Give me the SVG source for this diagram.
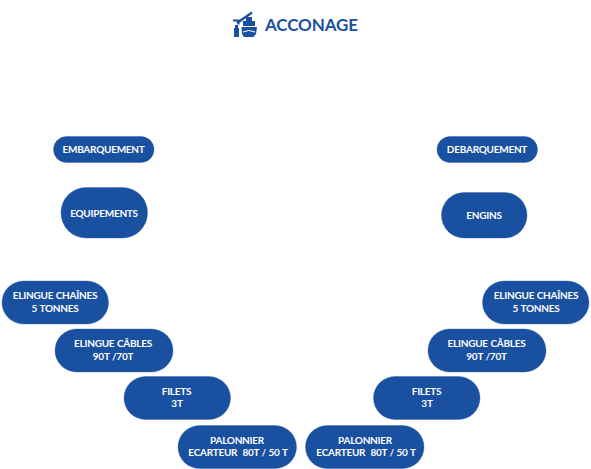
<svg xmlns="http://www.w3.org/2000/svg" width="591" height="469" viewBox="0 0 591 469">
<style>
.n{fill:#1a50a0;stroke:#1a50a0;stroke-opacity:.35;stroke-width:1}
.t{font-family:Lato,"Liberation Sans",sans-serif;font-size:10px;font-weight:700;fill:#fff;text-anchor:middle;letter-spacing:-0.25px;word-spacing:.4px}
.i{fill:#1a50a0}
.il{stroke:#1a50a0;stroke-width:2.200;fill:none}
</style>
<rect width="591" height="469" fill="#fff"/>
<g id="title">
<path class="il" d="M237 23L252 12.500M233 20.500h5.500v4"/>
<path class="i" d="M234 28h5v9h-5zM235 25h3v3h-3z"/>
<path class="i" d="M246 17h6v4h3v5h-12v-5h3z"/>
<path class="i" d="M241.500 27h15.500l-1 7-2.500 3h-9.500l-2-3z"/>
<path d="M243 32q5.500-3 12 0" stroke="#fff" stroke-width="1" fill="none"/>
<text x="265" y="31" font-family="Lato,'Liberation Sans',sans-serif" font-size="17" font-weight="700" letter-spacing="-0.1" fill="#1a50a0">ACCONAGE</text>
</g>
<g id="embarquement"><rect class="n" x="53.500" y="136.500" width="100.500" height="26" rx="13"/><text class="t" x="103.500" y="153">EMBARQUEMENT</text></g>
<g id="debarquement"><rect class="n" x="437" y="136.500" width="100.500" height="26" rx="13"/><text class="t" x="487" y="153">DEBARQUEMENT</text></g>
<g id="equipements"><rect class="n" x="61" y="187.500" width="86.500" height="50.500" rx="25"/><text class="t" x="104" y="217">EQUIPEMENTS</text></g>
<g id="engins"><rect class="n" x="441.500" y="192.500" width="85.500" height="45.500" rx="22.500"/><text class="t" x="484" y="219">ENGINS</text></g>
<g id="elingue-chaines-g"><rect class="n" x="2" y="281" width="106.500" height="43" rx="21.500"/><text class="t" x="55" y="299">ELINGUE CHAÎNES</text><text class="t" x="55" y="312">5 TONNES</text></g>
<g id="elingue-cables-g"><rect class="n" x="55" y="329" width="118" height="43" rx="21.500"/><text class="t" x="113" y="347">ELINGUE CÂBLES</text><text class="t" x="113" y="360">90T /70T</text></g>
<g id="filets-g"><rect class="n" x="124" y="376.500" width="106.500" height="43" rx="21.500"/><text class="t" x="176.500" y="395">FILETS</text><text class="t" x="177" y="407">3T</text></g>
<g id="palonnier-g"><rect class="n" x="178" y="425.500" width="118.500" height="43" rx="21.500"/><text class="t" x="237" y="444">PALONNIER</text><text class="t" x="238" y="456" xml:space="preserve">ECARTEUR  80T / 50 T</text></g>
<g id="elingue-chaines-d"><rect class="n" x="482.500" y="281" width="106.500" height="43" rx="21.500"/><text class="t" x="536" y="299">ELINGUE CHAÎNES</text><text class="t" x="536" y="312">5 TONNES</text></g>
<g id="elingue-cables-d"><rect class="n" x="428" y="329" width="118" height="43" rx="21.500"/><text class="t" x="486.500" y="347">ELINGUE CÂBLES</text><text class="t" x="486.500" y="360">90T /70T</text></g>
<g id="filets-d"><rect class="n" x="373.500" y="376.500" width="106.500" height="43" rx="21.500"/><text class="t" x="426.500" y="395">FILETS</text><text class="t" x="427" y="407">3T</text></g>
<g id="palonnier-d"><rect class="n" x="305.500" y="425.500" width="118.500" height="43" rx="21.500"/><text class="t" x="365" y="444">PALONNIER</text><text class="t" x="366" y="456" xml:space="preserve">ECARTEUR  80T / 50 T</text></g>
<g id="connectors"></g>
</svg>
